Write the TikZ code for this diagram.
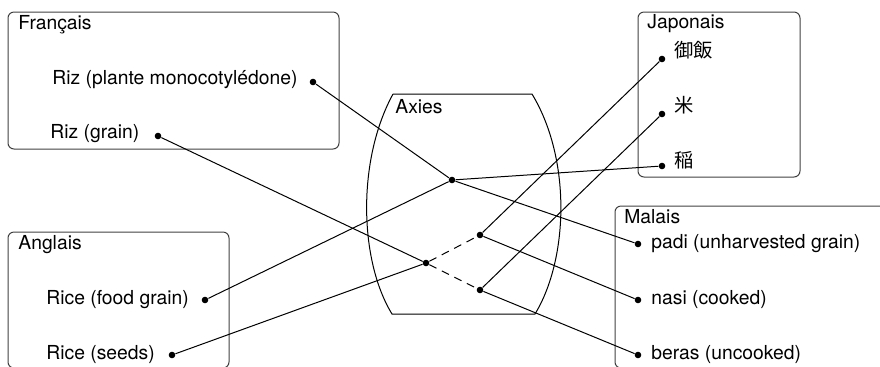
\documentclass[tikz,border=0pt]{standalone}
\usepackage{fontspec}
\setmainfont{TeX Gyre Heros}
\newfontfamily\jpfont{Noto Sans CJK JP}

\begin{document}
\begin{tikzpicture}[x=0.5pt,y=-0.5pt,font=\fontsize{9.65}{11.5}\selectfont,
    box/.style={draw=black!75,line width=0.5pt,rounded corners=3pt},
    dot/.style={circle,fill=black,inner sep=0pt,minimum size=3.3pt},
    word/.style={anchor=west,inner sep=0pt},
    link/.style={line width=0.5pt}]
      \clip (0,0) rectangle (880,366);
      \draw[box](8,12)rectangle(339,149);
      \draw[box](8,232)rectangle(229,368);
      \draw[box](638,12)rectangle(800,177);
      \draw[box](615,206)rectangle(890,368);
      \draw[line width=0.5pt](393,94)--(532,94)..controls(572,160)and(568,260)..(535,314)
        --(392,314)..controls(359,260)and(357,160)..(393,94);
      \node[word](fr)at(18,25){Français};
      \node[word](en)at(18,245){Anglais};
      \node[word](jp)at(647,24){Japonais};
      \node[word](ms)at(624,217){Malais};
      \node[word](axies)at(395,107){Axies};
      \node[word](trizplante)at(52,80){Riz (plante monocotylédone)};
      \node[word](trizgrain)at(50,134){Riz (grain)};
      \node[word](tricefood)at(46,300){Rice (food grain)};
      \node[word](triceseeds)at(46,355){Rice (seeds)};
      \node[word](tgohan)at(674,50){\jpfont 御飯};
      \node[word](tkome)at(674,105){\jpfont 米};
      \node[word](tine)at(674,160){\jpfont 稲};
      \node[word](tpadi)at(651,244){padi (unharvested grain)};
      \node[word](tnasi)at(651,300){nasi (cooked)};
      \node[word](tberas)at(651,355){beras (uncooked)};
      \node[dot](rizplante)at(313,82){};
      \node[dot](rizgrain)at(158,136){};
      \node[dot](ricefood)at(205,300){};
      \node[dot](riceseeds)at(172,355){};
      \node[dot](gohan)at(662,59){};
      \node[dot](kome)at(662,114){};
      \node[dot](ine)at(662,166){};
      \node[dot](padi)at(638,244){};
      \node[dot](nasi)at(638,300){};
      \node[dot](beras)at(638,355){};
      \node[dot](ax1)at(452,180){};
      \node[dot](ax2)at(480,235){};
      \node[dot](ax3)at(426,263){};
      \node[dot](ax4)at(480,290){};
      \draw[link](rizplante)--(ax1);
      \draw[link](ricefood)--(ax1);
      \draw[link](ax1)--(ine);
      \draw[link](ax1)--(padi);
      \draw[link](rizgrain)--(ax3);
      \draw[link](riceseeds)--(ax3);
      \draw[link,dash pattern=on 4pt off 3pt](ax3)--(ax2);
      \draw[link,dash pattern=on 4pt off 3pt](ax3)--(ax4);
      \draw[link](ax2)--(gohan);
      \draw[link](ax2)--(nasi);
      \draw[link](ax4)--(kome);
      \draw[link](ax4)--(beras);
    \end{tikzpicture}
\end{document}
